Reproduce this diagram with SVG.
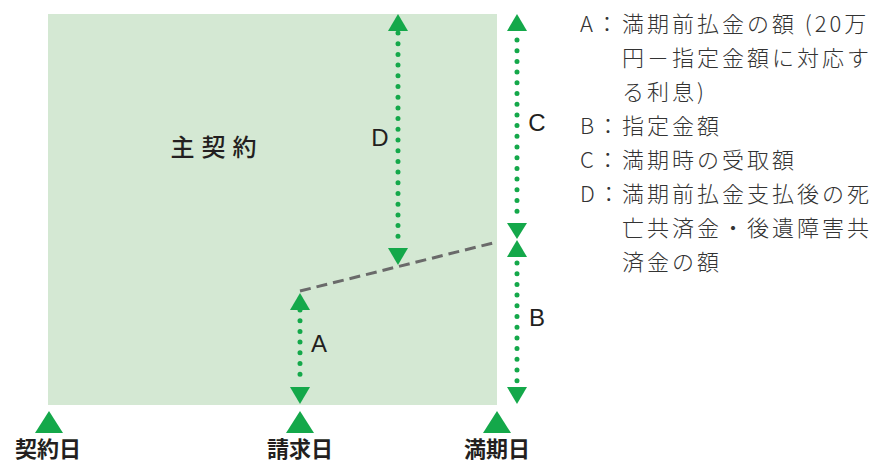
<svg xmlns="http://www.w3.org/2000/svg" width="881" height="464" viewBox="0 0 881 464">
<style>
.dot{stroke:#14a84a;stroke-width:5;stroke-linecap:round;stroke-dasharray:0 10.7;fill:none}
.tri{fill:#14a84a}
.lbl{font-family:"Liberation Sans","Noto Sans",sans-serif;font-size:24px;fill:#231f20}
.jp{font-family:"Noto Sans CJK JP",sans-serif;fill:#231f20}
.day{font-family:"Noto Sans CJK JP",sans-serif;fill:#231f20;font-size:22px;font-weight:700;text-anchor:middle}
.leg{font-family:"Noto Sans CJK JP",sans-serif;font-size:22px;fill:#333;letter-spacing:3px;font-weight:300}
</style>
<rect id="main" x="48" y="14" width="449" height="391" fill="#d4e8d3"/>
<g id="title"><text class="jp" x="217" y="156" font-size="24" text-anchor="middle" letter-spacing="7" font-weight="500">主契約</text></g>
<g id="connectors">
<line x1="300" y1="291" x2="497" y2="242" stroke="#6a6a6a" stroke-width="3" stroke-dasharray="11 6"/>
<line class="dot" x1="398" y1="33" x2="398" y2="246"/>
<polygon class="tri" points="398,14 388,31 408,31"/>
<polygon class="tri" points="388,248 408,248 398,265"/>
<line class="dot" x1="517" y1="40" x2="517" y2="218"/>
<polygon class="tri" points="517,14 507,31 527,31"/>
<polygon class="tri" points="507,223 527,223 517,239"/>
<polygon class="tri" points="517,240 507,257 527,257"/>
<line class="dot" x1="517" y1="263" x2="517" y2="382"/>
<polygon class="tri" points="507,387 527,387 517,404"/>
<line class="dot" x1="300" y1="310" x2="300" y2="384"/>
<polygon class="tri" points="300,293 290,310 310,310"/>
<polygon class="tri" points="290,387 310,387 300,404"/>
</g>
<g id="labels">
<text class="lbl" x="380" y="146" text-anchor="middle">D</text>
<text class="lbl" x="537" y="131" text-anchor="middle">C</text>
<text class="lbl" x="537" y="326" text-anchor="middle">B</text>
<text class="lbl" x="319" y="352" text-anchor="middle">A</text>
</g>
<g id="day-start"><polygon class="tri" points="49,411 35,433 63,433"/><text class="day" x="48" y="457">契約日</text></g>
<g id="day-claim"><polygon class="tri" points="300,411 286,433 314,433"/><text class="day" x="300" y="457">請求日</text></g>
<g id="day-maturity"><polygon class="tri" points="497,411 483,433 511,433"/><text class="day" x="497" y="457">満期日</text></g>
<g id="legend">
<text class="leg" x="580" y="32" letter-spacing="0">A：</text><text class="leg" x="622" y="32">満期前払金の額 (20万</text>
<text class="leg" x="622" y="66">円－指定金額に対応す</text>
<text class="leg" x="622" y="100">る利息)</text>
<text class="leg" x="580" y="134" letter-spacing="0">B：</text><text class="leg" x="622" y="134">指定金額</text>
<text class="leg" x="580" y="168" letter-spacing="0">C：</text><text class="leg" x="622" y="168">満期時の受取額</text>
<text class="leg" x="580" y="202" letter-spacing="0">D：</text><text class="leg" x="622" y="202">満期前払金支払後の死</text>
<text class="leg" x="622" y="236">亡共済金・後遺障害共</text>
<text class="leg" x="622" y="270">済金の額</text>
</g>
</svg>
